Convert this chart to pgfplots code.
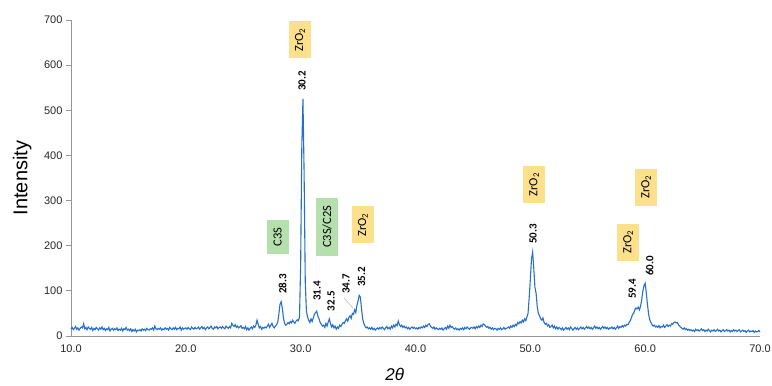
\documentclass[border=0pt]{standalone}
\usepackage{fontspec}
\setmainfont{Liberation Sans}
\newfontfamily\calfont{Carlito}
\usepackage{pgfplots}
\pgfplotsset{compat=1.18}
\definecolor{curve}{RGB}{38,112,204}
\definecolor{zr}{RGB}{253,224,140}
\definecolor{cs}{RGB}{181,224,174}
\definecolor{axgray}{RGB}{150,150,150}
\begin{document}
\begin{tikzpicture}
\useasboundingbox (-71pt,-50pt) rectangle (701pt,336pt);
\begin{axis}[
  at={(0,0)}, anchor=south west,
  width=689pt, height=316pt, scale only axis,
  xmin=10, xmax=70, ymin=0, ymax=700,
  xtick={10,20,...,70}, ytick={0,100,...,700},
  axis x line*=bottom, axis y line*=left,
  axis line style={axgray, line width=0.8pt},
  tick align=outside, major tick length=5pt,
  ytick style={axgray, line width=0.8pt},
  xtick style={draw=none},
  /pgf/number format/assume math mode=true,
  xticklabel style={/pgf/number format/.cd, fixed, fixed zerofill, precision=1},
  tick label style={font=\fontsize{11}{13}\selectfont, text=black!85},
  ylabel={Intensity},
  xlabel={\textit{2θ}},
  every axis y label/.append style={at={(axis description cs:-0.071,0.5)}, anchor=center, font=\fontsize{20}{22}\selectfont},
  every axis x label/.append style={at={(axis description cs:0.47,-0.123)}, anchor=center, font=\fontsize{17}{19}\selectfont},
  clip=false,
]
\addplot[curve, line width=1.1pt, mark=none] coordinates {
(10.0,16)(10.1,19)(10.2,14)(10.3,17)(10.4,21)(10.5,15)(10.6,18)(10.7,13)(10.8,17)(10.9,20)
(11.0,18)(11.1,27)(11.2,16)(11.3,19)(11.4,14)(11.5,20)(11.6,17)(11.7,15)(11.8,19)(11.9,12)
(12.0,17)(12.1,14)(12.2,19)(12.3,16)(12.4,13)(12.5,18)(12.6,15)(12.7,20)(12.8,14)(12.9,17)
(13.0,12)(13.1,16)(13.2,14)(13.3,19)(13.4,11)(13.5,15)(13.6,17)(13.7,13)(13.8,16)(13.9,14)
(14.0,18)(14.1,12)(14.2,15)(14.3,13)(14.4,17)(14.5,11)(14.6,16)(14.7,14)(14.8,19)(14.9,13)
(15.0,15)(15.1,12)(15.2,16)(15.3,10)(15.4,14)(15.5,11)(15.6,15)(15.7,9)(15.8,13)(15.9,12)
(16.0,14)(16.1,11)(16.2,16)(16.3,13)(16.4,15)(16.5,12)(16.6,17)(16.7,14)(16.8,13)(16.9,16)
(17.0,15)(17.1,18)(17.2,13)(17.3,22)(17.4,16)(17.5,14)(17.6,17)(17.7,15)(17.8,18)(17.9,13)
(18.0,16)(18.1,14)(18.2,18)(18.3,15)(18.4,17)(18.5,13)(18.6,19)(18.7,16)(18.8,14)(18.9,18)
(19.0,15)(19.1,19)(19.2,14)(19.3,17)(19.4,16)(19.5,20)(19.6,13)(19.7,18)(19.8,15)(19.9,17)
(20.0,18)(20.1,15)(20.2,19)(20.3,16)(20.4,14)(20.5,20)(20.6,17)(20.7,15)(20.8,19)(20.9,16)
(21.0,17)(21.1,20)(21.2,15)(21.3,18)(21.4,21)(21.5,16)(21.6,19)(21.7,14)(21.8,18)(21.9,20)
(22.0,16)(22.1,19)(22.2,22)(22.3,17)(22.4,15)(22.5,20)(22.6,18)(22.7,21)(22.8,16)(22.9,19)
(23.0,20)(23.1,17)(23.2,21)(23.3,18)(23.4,16)(23.5,22)(23.6,19)(23.7,17)(23.8,21)(23.9,18)
(24.0,28)(24.1,24)(24.2,21)(24.3,25)(24.4,19)(24.5,22)(24.6,18)(24.7,20)(24.8,23)(24.9,17)
(25.0,19)(25.1,16)(25.2,21)(25.3,14)(25.4,18)(25.5,13)(25.6,17)(25.7,20)(25.8,16)(25.9,22)
(26.0,19)(26.1,24)(26.2,35)(26.3,26)(26.4,18)(26.5,21)(26.6,15)(26.7,19)(26.8,17)(26.9,20)
(27.0,18)(27.1,22)(27.2,26)(27.3,19)(27.4,24)(27.5,28)(27.6,21)(27.7,18)(27.8,22)(27.9,25)
(28.0,30)(28.1,48)(28.2,70)(28.3,76)(28.4,62)(28.5,40)(28.6,28)(28.7,24)(28.8,26)(28.9,30)
(29.0,27)(29.1,32)(29.2,29)(29.3,35)(29.4,31)(29.5,28)(29.6,33)(29.7,36)(29.8,34)(29.9,42)
(30.0,160)(30.1,420)(30.2,525)(30.3,360)(30.4,120)(30.5,55)(30.6,42)(30.7,35)(30.8,30)(30.9,38)
(31.0,32)(31.1,40)(31.2,48)(31.3,52)(31.4,55)(31.5,44)(31.6,38)(31.7,30)(31.8,26)(31.9,22)
(32.0,24)(32.1,19)(32.2,28)(32.3,22)(32.4,31)(32.5,38)(32.6,27)(32.7,20)(32.8,25)(32.9,18)
(33.0,22)(33.1,15)(33.2,20)(33.3,17)(33.4,24)(33.5,21)(33.6,26)(33.7,30)(33.8,28)(33.9,34)
(34.0,38)(34.1,33)(34.2,41)(34.3,45)(34.4,39)(34.5,50)(34.6,48)(34.7,58)(34.8,52)(34.9,68)
(35.0,78)(35.1,90)(35.2,86)(35.3,60)(35.4,38)(35.5,28)(35.6,22)(35.7,18)(35.8,20)(35.9,16)
(36.0,18)(36.1,15)(36.2,19)(36.3,14)(36.4,17)(36.5,13)(36.6,16)(36.7,18)(36.8,15)(36.9,19)
(37.0,16)(37.1,20)(37.2,17)(37.3,14)(37.4,18)(37.5,21)(37.6,16)(37.7,19)(37.8,15)(37.9,22)
(38.0,18)(38.1,24)(38.2,20)(38.3,26)(38.4,23)(38.5,33)(38.6,25)(38.7,21)(38.8,24)(38.9,19)
(39.0,22)(39.1,18)(39.2,20)(39.3,16)(39.4,19)(39.5,15)(39.6,18)(39.7,20)(39.8,17)(39.9,19)
(40.0,16)(40.1,18)(40.2,15)(40.3,19)(40.4,17)(40.5,20)(40.6,18)(40.7,22)(40.8,19)(40.9,24)
(41.0,21)(41.1,26)(41.2,27)(41.3,22)(41.4,19)(41.5,17)(41.6,20)(41.7,15)(41.8,18)(41.9,16)
(42.0,14)(42.1,17)(42.2,15)(42.3,18)(42.4,13)(42.5,16)(42.6,19)(42.7,15)(42.8,22)(42.9,17)
(43.0,24)(43.1,19)(43.2,21)(43.3,17)(43.4,15)(43.5,18)(43.6,14)(43.7,16)(43.8,13)(43.9,17)
(44.0,15)(44.1,18)(44.2,14)(44.3,19)(44.4,16)(44.5,20)(44.6,17)(44.7,15)(44.8,18)(44.9,19)
(45.0,17)(45.1,20)(45.2,16)(45.3,21)(45.4,18)(45.5,22)(45.6,19)(45.7,24)(45.8,21)(45.9,27)
(46.0,25)(46.1,22)(46.2,19)(46.3,21)(46.4,17)(46.5,19)(46.6,15)(46.7,18)(46.8,14)(46.9,17)
(47.0,16)(47.1,13)(47.2,17)(47.3,15)(47.4,18)(47.5,14)(47.6,16)(47.7,19)(47.8,15)(47.9,17)
(48.0,18)(48.1,20)(48.2,17)(48.3,22)(48.4,19)(48.5,24)(48.6,21)(48.7,26)(48.8,23)(48.9,30)
(49.0,27)(49.1,32)(49.2,29)(49.3,35)(49.4,31)(49.5,38)(49.6,34)(49.7,42)(49.8,50)(49.9,85)
(50.0,125)(50.1,170)(50.2,186)(50.3,150)(50.4,108)(50.5,95)(50.6,65)(50.7,50)(50.8,45)(50.9,38)
(51.0,35)(51.1,40)(51.2,30)(51.3,26)(51.4,28)(51.5,22)(51.6,25)(51.7,19)(51.8,21)(51.9,24)
(52.0,18)(52.1,22)(52.2,16)(52.3,20)(52.4,15)(52.5,19)(52.6,17)(52.7,14)(52.8,18)(52.9,13)
(53.0,16)(53.1,19)(53.2,15)(53.3,18)(53.4,14)(53.5,20)(53.6,17)(53.7,13)(53.8,16)(53.9,19)
(54.0,15)(54.1,18)(54.2,14)(54.3,17)(54.4,20)(54.5,16)(54.6,19)(54.7,15)(54.8,18)(54.9,21)
(55.0,17)(55.1,20)(55.2,16)(55.3,19)(55.4,15)(55.5,18)(55.6,22)(55.7,17)(55.8,20)(55.9,16)
(56.0,19)(56.1,15)(56.2,18)(56.3,21)(56.4,17)(56.5,20)(56.6,16)(56.7,19)(56.8,15)(56.9,18)
(57.0,17)(57.1,20)(57.2,16)(57.3,19)(57.4,15)(57.5,18)(57.6,22)(57.7,17)(57.8,21)(57.9,19)
(58.0,23)(58.1,20)(58.2,24)(58.3,22)(58.4,26)(58.5,25)(58.6,30)(58.7,34)(58.8,40)(58.9,48)
(59.0,50)(59.1,58)(59.2,62)(59.3,60)(59.4,64)(59.5,58)(59.6,66)(59.7,80)(59.8,100)(59.9,112)
(60.0,117)(60.1,95)(60.2,70)(60.3,48)(60.4,36)(60.5,30)(60.6,25)(60.7,22)(60.8,24)(60.9,20)
(61.0,22)(61.1,19)(61.2,23)(61.3,18)(61.4,21)(61.5,20)(61.6,24)(61.7,19)(61.8,22)(61.9,25)
(62.0,21)(62.1,24)(62.2,22)(62.3,27)(62.4,26)(62.5,30)(62.6,31)(62.7,29)(62.8,30)(62.9,25)
(63.0,22)(63.1,19)(63.2,17)(63.3,15)(63.4,18)(63.5,14)(63.6,16)(63.7,13)(63.8,15)(63.9,12)
(64.0,14)(64.1,11)(64.2,13)(64.3,10)(64.4,15)(64.5,12)(64.6,14)(64.7,11)(64.8,13)(64.9,16)
(65.0,12)(65.1,14)(65.2,10)(65.3,13)(65.4,11)(65.5,15)(65.6,12)(65.7,9)(65.8,13)(65.9,11)
(66.0,14)(66.1,10)(66.2,12)(66.3,15)(66.4,11)(66.5,13)(66.6,9)(66.7,12)(66.8,14)(66.9,10)
(67.0,12)(67.1,14)(67.2,11)(67.3,13)(67.4,9)(67.5,12)(67.6,10)(67.7,14)(67.8,11)(67.9,13)
(68.0,10)(68.1,12)(68.2,14)(68.3,9)(68.4,11)(68.5,13)(68.6,10)(68.7,12)(68.8,8)(68.9,11)
(69.0,13)(69.1,9)(69.2,11)(69.3,10)(69.4,12)(69.5,8)(69.6,11)(69.7,9)(69.8,10)(69.9,12)
(70.0,9)
};
% peak labels
\tikzset{pk/.style={rotate=90, anchor=center, inner sep=0pt, font=\calfont\bfseries\fontsize{11}{13}\selectfont},
         bx/.style={rotate=90, anchor=center, inner sep=0pt, minimum height=22pt, font=\calfont\fontsize{12.5}{14}\selectfont}}
\node[pk] at (axis cs:30.12,565) {30.2};
\node[pk] at (axis cs:28.42,115) {28.3};
\node[pk] at (axis cs:31.43,100) {31.4};
\node[pk] at (axis cs:32.65,77) {32.5};
\node[pk] at (axis cs:33.95,115) {34.7};
\node[pk] at (axis cs:35.30,131) {35.2};
\node[pk] at (axis cs:50.24,226) {50.3};
\node[pk] at (axis cs:58.87,104) {59.4};
\node[pk] at (axis cs:60.39,155) {60.0};
\draw[gray!60, line width=0.5pt] (axis cs:33.78,84) -- (axis cs:34.56,62);
% boxes
\node[bx, fill=zr, minimum width=37pt] at (axis cs:29.95,656) {ZrO\textsubscript{2}};
\node[bx, fill=cs, minimum width=34pt] at (axis cs:28.0,219) {C3S};
\node[bx, fill=cs, minimum width=58pt] at (axis cs:32.3,242) {C3S/C2S};
\node[bx, fill=zr, minimum width=37pt] at (axis cs:35.43,246) {ZrO\textsubscript{2}};
\node[bx, fill=zr, minimum width=37pt] at (axis cs:50.33,335) {ZrO\textsubscript{2}};
\node[bx, fill=zr, minimum width=37pt] at (axis cs:58.52,208) {ZrO\textsubscript{2}};
\node[bx, fill=zr, minimum width=37pt] at (axis cs:60.09,330) {ZrO\textsubscript{2}};
\end{axis}
\end{tikzpicture}
\end{document}
